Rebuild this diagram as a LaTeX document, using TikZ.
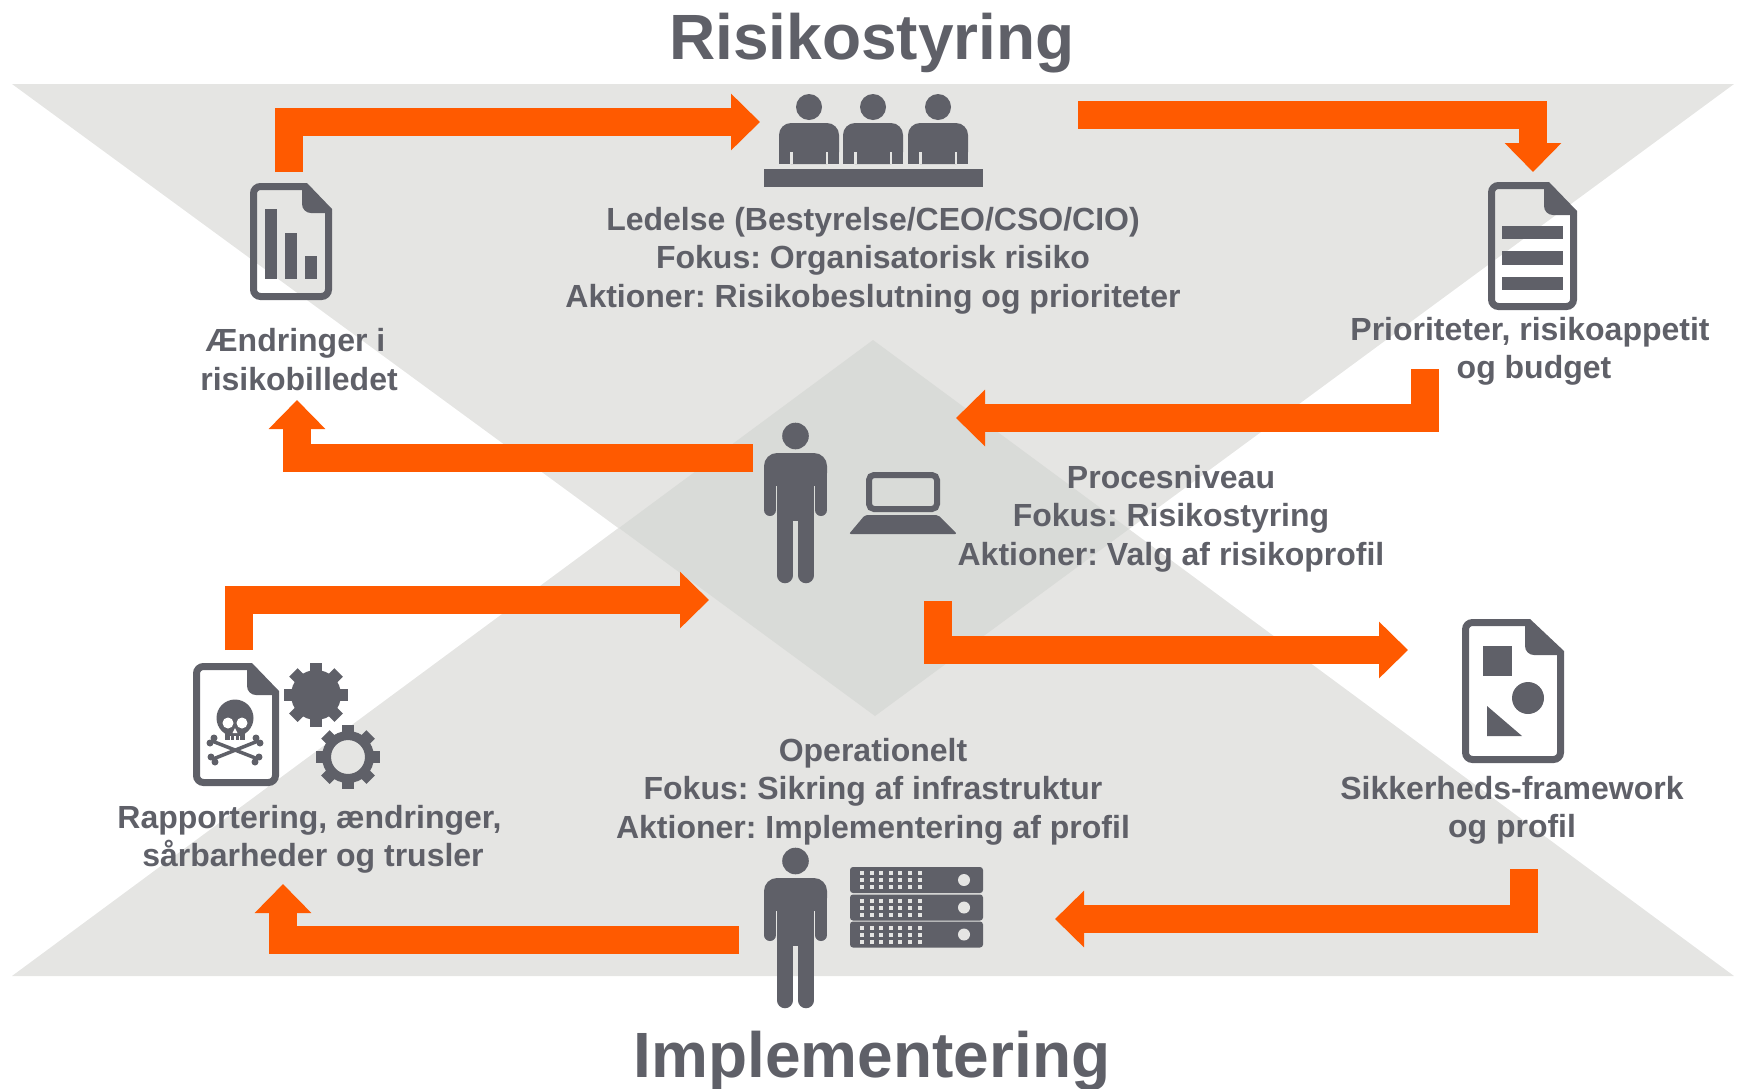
\documentclass[tikz,border=0pt]{standalone}
\usepackage{fontspec}
\setmainfont{Liberation Sans}
\usetikzlibrary{arrows.meta}
\definecolor{flow}{HTML}{FF5A00}
\definecolor{ink}{HTML}{5F6068}
\definecolor{ground}{HTML}{E5E5E3}
\definecolor{core}{HTML}{D9DBD8}
\frenchspacing
\tikzset{
    flowarrow/.style={draw=flow, line width=28.5pt, -{Triangle[width=55pt,length=29pt]}},
    label/.style={text=ink, font=\bfseries\fontsize{32}{38.5}\selectfont, align=center, inner sep=0pt},
    heading/.style={text=ink, font=\bfseries\fontsize{64}{70}\selectfont, inner sep=0pt},
    outline/.style={draw=ink, line width=7pt, rounded corners=7pt},
    pics/person/.style={code={
        \fill[ink] (0,0) circle (13.3);
        \fill[ink, rounded corners=13pt] (-31.5,50) -- (-31.5,17) -- (31.5,17) -- (31.5,50) -- cycle;
        \fill[ink] (-18.5,30) rectangle (18.5,85);
        \draw[ink, line width=12pt, line cap=round] (-25.5,35) -- (-25.5,74);
        \draw[ink, line width=12pt, line cap=round] (25.5,35) -- (25.5,74);
        \draw[ink, line width=15.5pt, line cap=round] (-10.5,70) -- (-10.5,139.5);
        \draw[ink, line width=15.5pt, line cap=round] (10.5,70) -- (10.5,139.5);
    }},
    pics/sitter/.style={code={
        \fill[ink] (0,-16) circle (13);
        \fill[ink, rounded corners=12pt] (-30,41) -- (-30,0) -- (30,0) -- (30,41) -- cycle;
        \fill[ink] (-30,20) rectangle (30,41);
        \fill[ground] (-19,29) rectangle (-16.5,41);
        \fill[ground] (16.5,29) rectangle (19,41);
    }},
    pics/rackunit/.style={code={
        \fill[ink, rounded corners=3pt] (850,-13) rectangle (983,13);
        \foreach \c in {0,...,6}
        \foreach \r in {-7,0,7}
        \fill[ground] ({862+9.6*\c-2},{\r-2}) rectangle ++(4,4);
        \fill[ground] (964,0) circle (6);
    }},
    pics/gearteeth/.style={code={
        \foreach \a in {0,45,...,315}
        \fill[ink, rotate=\a] (-6,-32) rectangle (6,-22);
    }}
}
% page of a document: left, top, right, bottom, start of fold, foot of fold
\newcommand{\docpage}[6]{
    \draw[outline] (#5,#2+3.5) -- (#1+3.5,#2+3.5) -- (#1+3.5,#4-3.5) -- (#3-3.5,#4-3.5) -- (#3-3.5,#6);
    \fill[ink] (#5+5,#2) -- (#5,#2) [rounded corners=9pt] -- (#5,#6) [sharp corners] -- (#3,#6) -- (#3,#6-4) -- cycle;
}
\begin{document}
\begin{tikzpicture}[x=1pt,y=-1pt]
    \useasboundingbox (0,0) rectangle (1739,1088);

    % the two triangles and their overlap
    \fill[ground] (12,84) -- (1734,84) -- (875,716) -- cycle;
    \fill[ground] (12,976) -- (1734,976) -- (873,340) -- cycle;
    \fill[core] (873,340) -- (1129,529) -- (875,716) -- (619,528) -- cycle;

    \node[heading] (risk) at (872,43) {Risikostyring};
    \node[heading] (impl) at (872,1061) {Implementering};

    \node[label] (board) at (873,260.5) {Ledelse (Bestyrelse/CEO/CSO/CIO)\\Fokus: Organisatorisk risiko\\Aktioner: Risikobeslutning og prioriteter};
    \node[label] (change) at (299,359.5) {Ændringer i\hspace*{7pt}\\risikobilledet};
    \node[label] (prio) at (1530,351.5) {Prioriteter, risikoappetit\\\hspace*{8pt}og budget};
    \node[label] (proc) at (1171,518.5) {Procesniveau\\Fokus: Risikostyring\\Aktioner: Valg af risikoprofil};
    \node[label] (report) at (309.5,839.5) {Rapportering, ændringer,\\\hspace*{7pt}sårbarheder og trusler};
    \node[label] (oper) at (873,791.5) {Operationelt\\Fokus: Sikring af infrastruktur\\Aktioner: Implementering af profil};
    \node[label] (frame) at (1512,810.5) {Sikkerheds-framework\\og profil};

    % arrows
    \coordinate (a1) at (289,172);
    \coordinate (a2) at (760,122);
    \coordinate (b1) at (1078,115);
    \coordinate (b2) at (1533,172);
    \coordinate (c1) at (1425,369);
    \coordinate (c2) at (956,418);
    \coordinate (d1) at (753,458);
    \coordinate (d2) at (297,400);
    \coordinate (e1) at (239,650);
    \coordinate (e2) at (709,600);
    \coordinate (f1) at (938,601);
    \coordinate (f2) at (1408,650);
    \coordinate (g1) at (1524,869);
    \coordinate (g2) at (1055,919);
    \coordinate (h1) at (739,940);
    \coordinate (h2) at (283,884);
    \draw[flowarrow] (a1) |- (a2);
    \draw[flowarrow] (b1) -| (b2);
    \draw[flowarrow] (c1) |- (c2);
    \draw[flowarrow] (d1) -| (d2);
    \draw[flowarrow] (e1) |- (e2);
    \draw[flowarrow] (f1) |- (f2);
    \draw[flowarrow] (g1) |- (g2);
    \draw[flowarrow] (h1) -| (h2);

    % people
    \pic at (795.5,436) {person};
    \pic at (795.5,861) {person};
    \foreach \x in {809,873,938}
    \pic at (\x,123) {sitter};
    \fill[ink] (764,169) rectangle (983,187);

    % laptop
    \draw[outline, line width=6pt, rounded corners=5pt] (869,475) rectangle (937,509);
    \fill[ink, rounded corners=2pt] (849,534) -- (865,515) -- (938,515) -- (957,534) -- cycle;

    % server
    \foreach \y in {880,907.5,934.5}
    \pic at (0,\y) {rackunit};

    % chart page
    \docpage{250}{183}{332}{300}{302}{213}
    \fill[ink] (265,209) rectangle (277,279);
    \fill[ink] (285,233) rectangle (297,279);
    \fill[ink] (305,256) rectangle (317,279);

    % list page
    \docpage{1488}{182}{1577}{310}{1544}{215}
    \fill[ink] (1502,226) rectangle (1563,239);
    \fill[ink] (1502,251) rectangle (1563,265);
    \fill[ink] (1502,277) rectangle (1563,290);

    % shapes page
    \docpage{1462}{619}{1564}{763}{1525}{655}
    \fill[ink] (1483,646) rectangle (1512,676);
    \fill[ink] (1528,698) circle (16);
    \fill[ink] (1487,706) -- (1487,736) -- (1522,736) -- cycle;

    % skull page
    \docpage{193}{663}{279}{786}{247}{695}
    \draw[ink, line width=3.5pt] (212,741) -- (258,759);
    \draw[ink, line width=3.5pt] (213,759) -- (258,741);
    \foreach \x/\y in {210/743,214/738,256/738,260/743,211/757,215/762,255/762,259/757}
    \fill[ink] (\x,\y) circle (3.5);
    \fill[ink] (235,718) circle (18.5);
    \fill[ink] (225,728) rectangle (245,740);
    \fill[white] (228,723) circle (5.5);
    \fill[white] (242,723) circle (5.5);
    \fill[white] (235,728) -- (232.5,733) -- (237.5,733) -- cycle;
    \foreach \x in {230.5,235,239.5}
    \fill[white] (\x-0.6,736) rectangle (\x+0.6,740);

    % gears
    \pic at (316,695) {gearteeth};
    \fill[ink] (316,695) circle (25);
    \pic at (348,757) {gearteeth};
    \draw[ink, line width=9pt] (348,757) circle (21.5);
\end{tikzpicture}
\end{document}
